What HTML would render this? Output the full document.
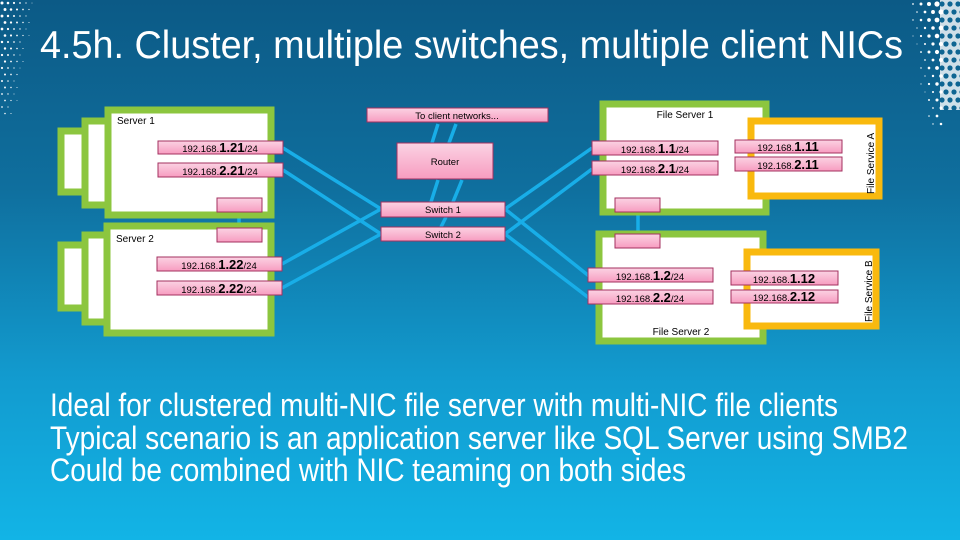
<!DOCTYPE html>
<html><head><meta charset="utf-8"><style>
html,body{margin:0;padding:0;width:960px;height:540px;overflow:hidden}
svg{display:block}
text{font-family:"Liberation Sans",Arial,sans-serif}
</style></head><body>
<svg id="s" width="960" height="540" viewBox="0 0 960 540" xmlns="http://www.w3.org/2000/svg">
<defs>
<linearGradient id="bg" x1="0" y1="0" x2="0" y2="1">
<stop offset="0" stop-color="#0c5a86"/>
<stop offset="0.35" stop-color="#0f6f9e"/>
<stop offset="0.7" stop-color="#129bcf"/>
<stop offset="1" stop-color="#12b4e6"/>
</linearGradient>
<linearGradient id="pk" x1="0" y1="0" x2="0" y2="1">
<stop offset="0" stop-color="#fbd3e3"/>
<stop offset="1" stop-color="#f79cc0"/>
</linearGradient>
</defs>
<rect width="960" height="540" fill="url(#bg)"/>
<g id="dots" fill="#ffffff"></g>
<rect x="940" y="0" width="20" height="110" fill="#ffffff" opacity="0.8"/>
<g id="holes" fill="#0e6592"></g>

<text x="40" y="58" font-size="39" fill="#fff" textLength="863" lengthAdjust="spacingAndGlyphs">4.5h. Cluster, multiple switches, multiple client NICs</text>

<g stroke="#18aee8" stroke-width="3.5" fill="none">
<line x1="283" y1="148" x2="381" y2="209"/>
<line x1="283" y1="170" x2="381" y2="234"/>
<line x1="282" y1="264" x2="381" y2="209"/>
<line x1="282" y1="288" x2="381" y2="234"/>
<line x1="505" y1="209" x2="592" y2="148"/>
<line x1="505" y1="234" x2="592" y2="169"/>
<line x1="505" y1="209" x2="589" y2="276"/>
<line x1="505" y1="234" x2="589" y2="298"/>
<line x1="239" y1="212" x2="239" y2="228"/>
<line x1="638" y1="212" x2="638" y2="234"/>
<line x1="438" y1="124" x2="432" y2="143"/>
<line x1="456" y1="124" x2="449" y2="143"/>
<line x1="438" y1="180" x2="431" y2="202"/>
<line x1="462" y1="180" x2="453" y2="202"/>
<line x1="446" y1="217" x2="441" y2="227"/>
</g>

<g fill="#fff" stroke="#8cc63f" stroke-width="7">
<rect x="61" y="131" width="40" height="61"/>
<rect x="85" y="121" width="40" height="84"/>
<rect x="108" y="110" width="163" height="105"/>
<rect x="61" y="245" width="40" height="63"/>
<rect x="85" y="235" width="40" height="87"/>
<rect x="107" y="226" width="164" height="107"/>
<rect x="603" y="104" width="163" height="108"/>
<rect x="599" y="234" width="164" height="107"/>
</g>
<g fill="#fff" stroke="#f9b90e" stroke-width="7">
<rect x="751" y="121" width="128" height="75"/>
<rect x="747" y="252" width="129" height="74"/>
</g>

<g fill="#000" font-size="10">
<text x="117" y="124">Server 1</text>
<text x="116" y="242">Server 2</text>
<text x="685" y="118" text-anchor="middle">File Server 1</text>
<text x="681" y="335" text-anchor="middle">File Server 2</text>
<text transform="translate(874,194) rotate(-90)">File Service A</text>
<text transform="translate(872,322) rotate(-90)">File Service B</text>
</g>

<g fill="url(#pk)" stroke="#a3305f" stroke-width="1">
<rect x="158" y="141" width="125" height="13"/>
<rect x="158" y="163" width="125" height="14"/>
<rect x="157" y="257" width="125" height="14"/>
<rect x="157" y="281" width="125" height="14"/>
<rect x="217" y="198" width="45" height="14"/>
<rect x="217" y="228" width="45" height="14"/>
<rect x="367" y="108" width="181" height="14"/>
<rect x="397" y="143" width="96" height="36"/>
<rect x="381" y="202" width="124" height="15"/>
<rect x="381" y="227" width="124" height="14"/>
<rect x="592" y="141" width="126" height="14"/>
<rect x="592" y="161" width="126" height="14"/>
<rect x="588" y="268" width="125" height="14"/>
<rect x="588" y="290" width="125" height="14"/>
<rect x="615" y="198" width="45" height="14"/>
<rect x="615" y="234" width="45" height="14"/>
<rect x="735" y="140" width="107" height="13"/>
<rect x="735" y="157" width="107" height="14"/>
<rect x="731" y="271" width="107" height="14"/>
<rect x="731" y="290" width="107" height="13"/>
</g>

<g fill="#000" font-size="9.5" text-anchor="middle">
<text x="457" y="119">To client networks...</text>
<text x="445" y="165">Router</text>
<text x="443" y="213">Switch 1</text>
<text x="443" y="238">Switch 2</text>
<text x="220" y="152">192.168.<tspan font-size="13" font-weight="bold">1.21</tspan>/24</text>
<text x="220" y="175">192.168.<tspan font-size="13" font-weight="bold">2.21</tspan>/24</text>
<text x="219" y="269">192.168.<tspan font-size="13" font-weight="bold">1.22</tspan>/24</text>
<text x="219" y="293">192.168.<tspan font-size="13" font-weight="bold">2.22</tspan>/24</text>
<text x="655" y="153">192.168.<tspan font-size="13" font-weight="bold">1.1</tspan>/24</text>
<text x="655" y="173">192.168.<tspan font-size="13" font-weight="bold">2.1</tspan>/24</text>
<text x="650" y="280">192.168.<tspan font-size="13" font-weight="bold">1.2</tspan>/24</text>
<text x="650" y="302">192.168.<tspan font-size="13" font-weight="bold">2.2</tspan>/24</text>
<text x="788" y="151">192.168.<tspan font-size="13" font-weight="bold">1.11</tspan></text>
<text x="788" y="169">192.168.<tspan font-size="13" font-weight="bold">2.11</tspan></text>
<text x="784" y="283">192.168.<tspan font-size="13" font-weight="bold">1.12</tspan></text>
<text x="784" y="301">192.168.<tspan font-size="13" font-weight="bold">2.12</tspan></text>
</g>

<g fill="#fff" font-size="32">
<text x="50" y="416" textLength="788" lengthAdjust="spacingAndGlyphs">Ideal for clustered multi-NIC file server with multi-NIC file clients</text>
<text x="50" y="449" textLength="858" lengthAdjust="spacingAndGlyphs">Typical scenario is an application server like SQL Server using SMB2</text>
<text x="50" y="481" textLength="636" lengthAdjust="spacingAndGlyphs">Could be combined with NIC teaming on both sides</text>
</g>
<script>
(function(){
var ns="http://www.w3.org/2000/svg",d=document.getElementById("dots"),h=document.getElementById("holes");
function c(g,x,y,r){var e=document.createElementNS(ns,"circle");e.setAttribute("cx",x);e.setAttribute("cy",y);e.setAttribute("r",r);g.appendChild(e);}
for(var y=3;y<120;y+=6.5){for(var x=2;x<34;x+=6){var r=1.6-x/28-y/150;if(r>0.4)c(d,x+(y%13>6?3:0),y,r);}}
for(var y=4;y<130;y+=8){for(var x=905;x<940;x+=8){var r=(x-900)/14-y/90;if(r>0.4)c(d,x+(y%16>8?4:0),y,Math.min(r,4));}}
for(var y=4;y<112;y+=8){for(var x=942;x<962;x+=8){c(h,x+(y%16>8?4:0),y,2.6);}}
})();
</script>
</svg>
</body></html>
